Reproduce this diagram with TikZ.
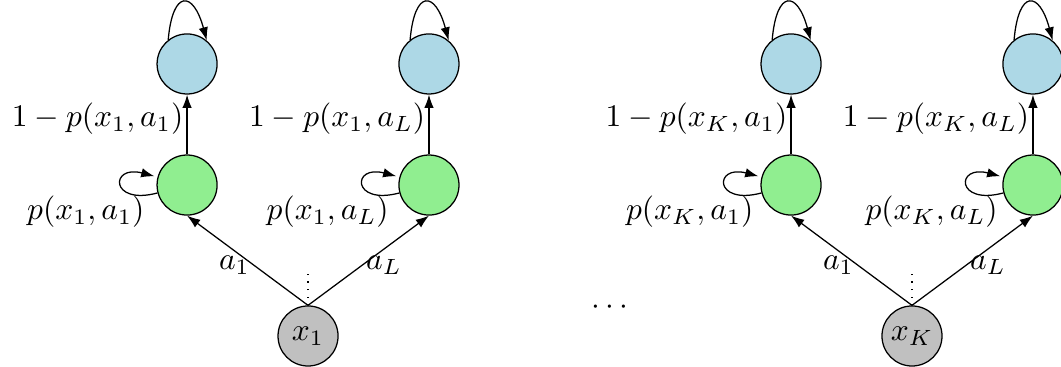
\documentclass[tikz,border=0pt]{standalone}
\usetikzlibrary{arrows.meta}
\definecolor{lblue}{RGB}{173,216,230}
\definecolor{lgreen}{RGB}{144,238,144}
\definecolor{lgray}{RGB}{192,192,192}
\begin{document}
\begin{tikzpicture}[>={Latex[length=4.2pt,width=3pt]},
  state/.style={circle,draw,inner sep=0pt,minimum size=0.67cm},
  initnode/.style={state,fill=lgray},
  waitnode/.style={state,fill=lgreen},
  endnode/.style={state,fill=lblue},
  selfloop/.style={out=85,in=105,looseness=3.4}]
\useasboundingbox (-3.438,-0.346) rectangle (8.404,3.750);
% first group
\node[initnode] (x1) at (0,0) {$x_1$};
\node[waitnode] (w11) at (-1.35,1.685) {};
\node[endnode] (e11) at (-1.35,3.036) {};
\node[waitnode] (w1L) at (1.35,1.685) {};
\node[endnode] (e1L) at (1.35,3.036) {};
\draw[->] (x1.north) -- node[pos=0.45,left,inner sep=1pt] {$a_1$} (w11.south);
\draw[->] (x1.north) -- node[pos=0.45,right,inner sep=1pt] {$a_L$} (w1L.south);
\draw[dotted] (x1.north) -- ++(0,0.35);
\draw[->] (w11) edge[loop left] node[below,xshift=-0.4cm] {$p(x_1,a_1)$} (w11);
\draw[->] (w1L) edge[loop left] node[below,xshift=-0.4cm] {$p(x_1,a_L)$} (w1L);
\draw[->] (w11) -- node[pos=0.6,left,inner sep=1pt] {$1-p(x_1,a_1)$} (e11);
\draw[->] (w1L) -- node[pos=0.6,left,inner sep=1pt] {$1-p(x_1,a_L)$} (e1L);
\draw[->] (e11.128) to[selfloop] (e11.50);
\draw[->] (e1L.128) to[selfloop] (e1L.50);
% dots
\node (dots) at (3.37,0.32) {$\cdots$};
% last group
\node[initnode] (xK) at (6.741,0) {$x_K$};
\node[waitnode] (wK1) at (5.391,1.685) {};
\node[endnode] (eK1) at (5.391,3.036) {};
\node[waitnode] (wKL) at (8.091,1.685) {};
\node[endnode] (eKL) at (8.091,3.036) {};
\draw[->] (xK.north) -- node[pos=0.45,left,inner sep=1pt] {$a_1$} (wK1.south);
\draw[->] (xK.north) -- node[pos=0.45,right,inner sep=1pt] {$a_L$} (wKL.south);
\draw[dotted] (xK.north) -- ++(0,0.35);
\draw[->] (wK1) edge[loop left] node[below,xshift=-0.4cm] {$p(x_K,a_1)$} (wK1);
\draw[->] (wKL) edge[loop left] node[below,xshift=-0.4cm] {$p(x_K,a_L)$} (wKL);
\draw[->] (wK1) -- node[pos=0.6,left,inner sep=1pt] {$1-p(x_K,a_1)$} (eK1);
\draw[->] (wKL) -- node[pos=0.6,left,inner sep=1pt] {$1-p(x_K,a_L)$} (eKL);
\draw[->] (eK1.128) to[selfloop] (eK1.50);
\draw[->] (eKL.128) to[selfloop] (eKL.50);
\end{tikzpicture}
\end{document}
